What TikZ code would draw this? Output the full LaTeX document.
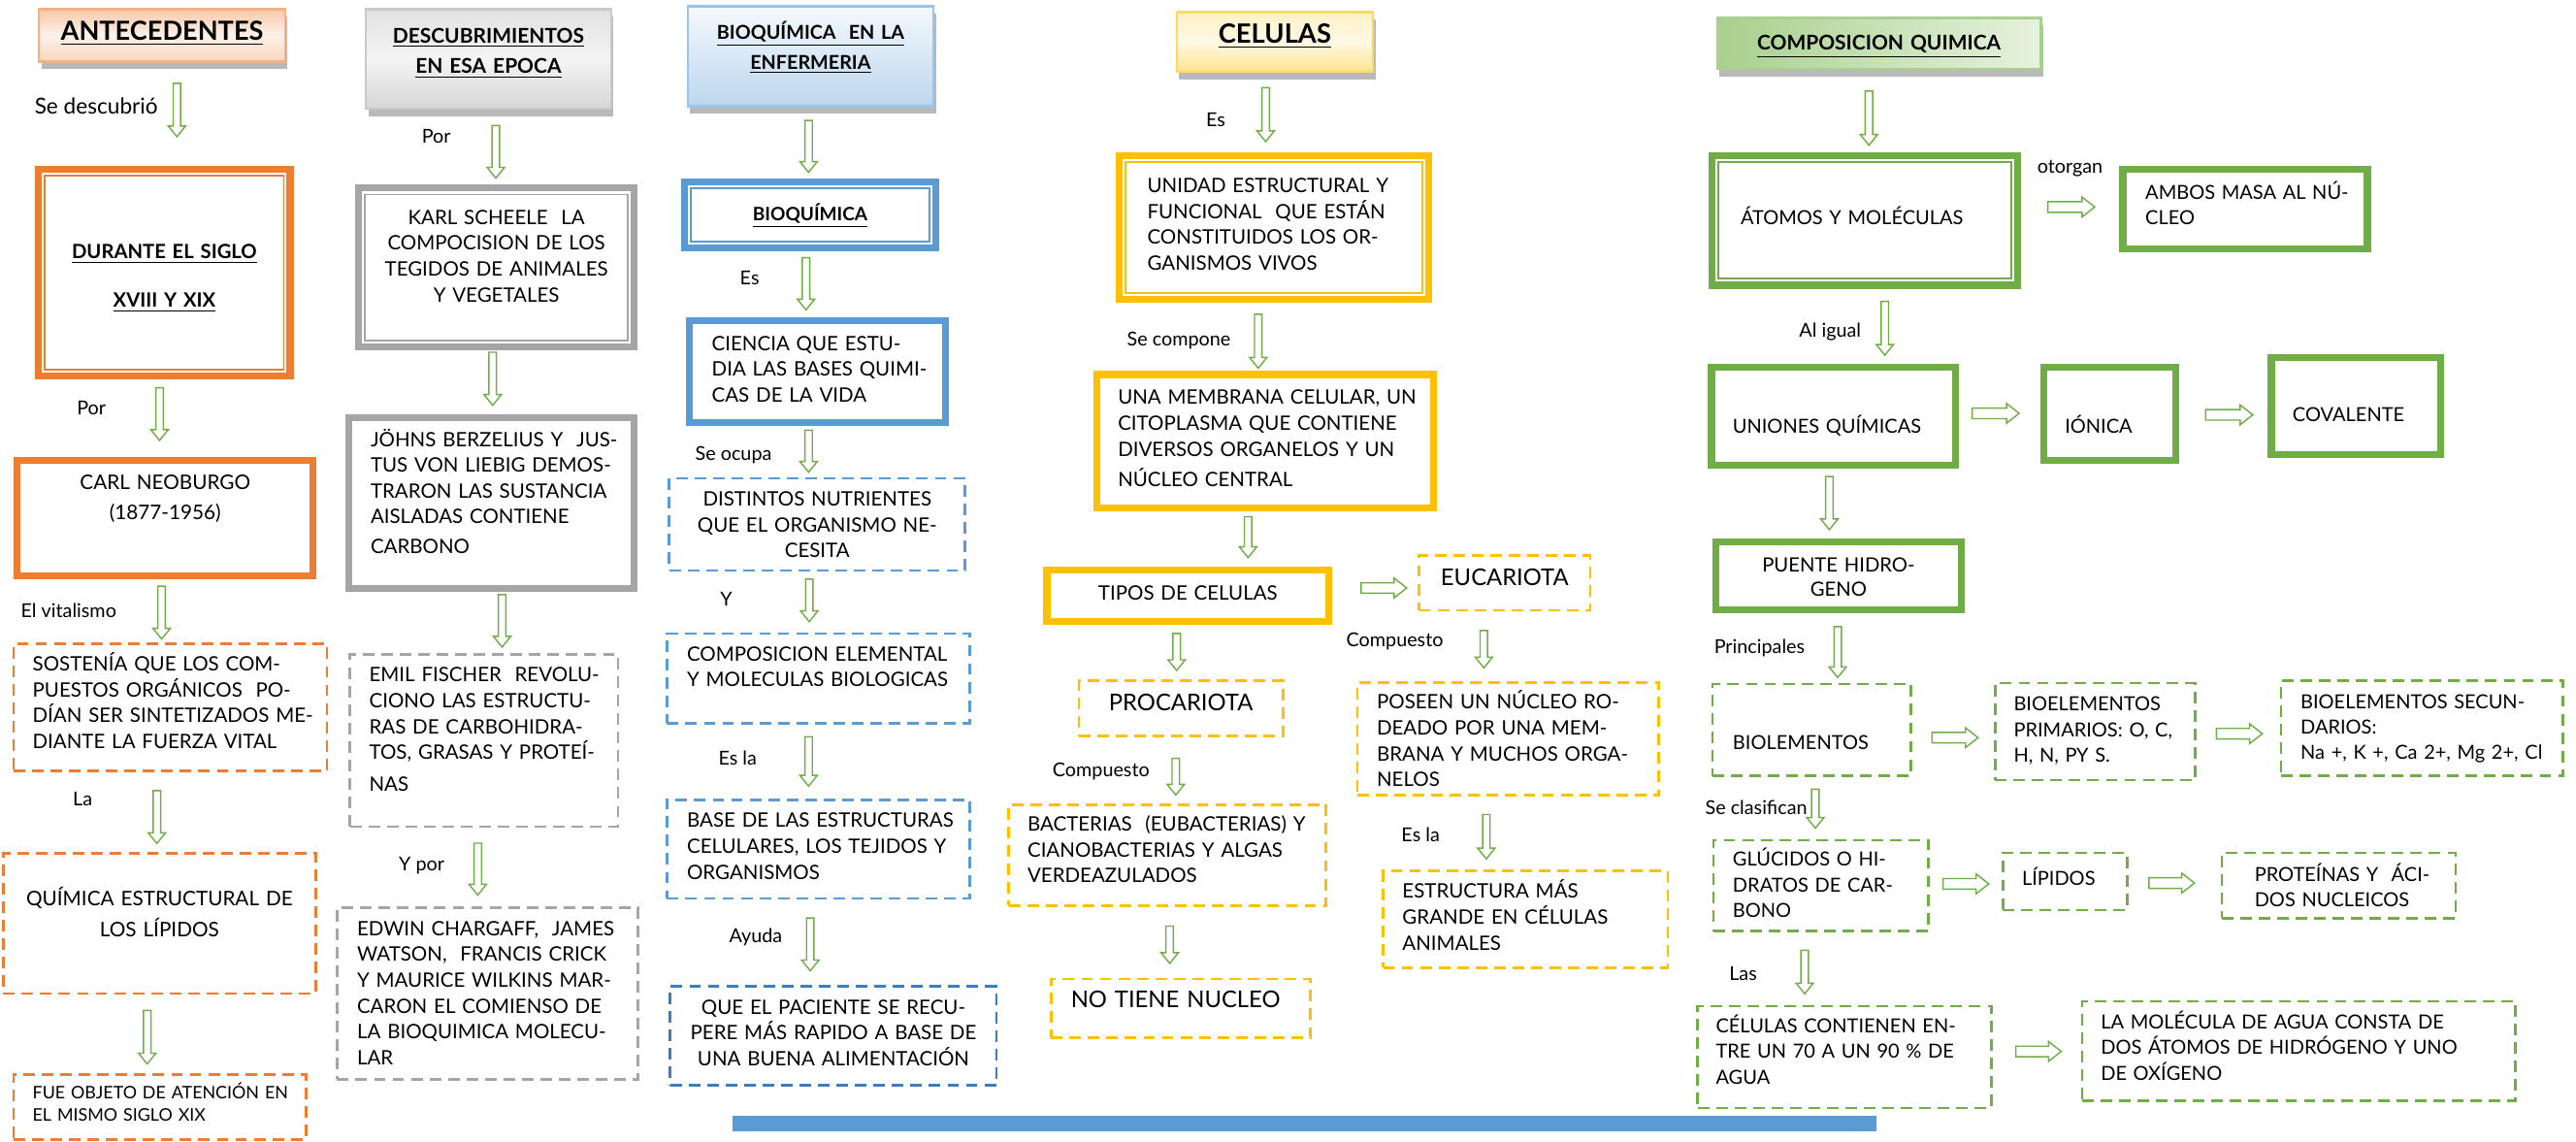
\documentclass[tikz,border=0pt]{standalone}
\usepackage{fontspec}
\setmainfont{Lato}
\setsansfont{Lato}
\usetikzlibrary{shapes.arrows,shadows}
\newdimen\U \U=0.025cm
\definecolor{cOr}{HTML}{ED7D31}
\definecolor{cGr}{HTML}{A5A5A5}
\definecolor{cBl}{HTML}{5B9BD5}
\definecolor{cBd}{HTML}{3A7DC0}
\definecolor{cGo}{HTML}{FFC000}
\definecolor{cGn}{HTML}{70AD47}
\definecolor{cAr}{HTML}{70AD47}
\definecolor{hOb}{HTML}{F4B183}
\definecolor{hOt}{HTML}{F8C9AA}
\definecolor{hOm}{HTML}{FDF1E9}
\definecolor{hOd}{HTML}{F9D5BD}
\definecolor{hGb}{HTML}{C9C9C9}
\definecolor{hGt}{HTML}{E2E2E2}
\definecolor{hGm}{HTML}{F4F4F4}
\definecolor{hGd}{HTML}{D6D6D6}
\definecolor{hBb}{HTML}{9DC3E6}
\definecolor{hBt}{HTML}{F5F9FD}
\definecolor{hBd}{HTML}{BCD6EE}
\definecolor{hYb}{HTML}{FFD966}
\definecolor{hYt}{HTML}{FFF1C6}
\definecolor{hYm}{HTML}{FFF9E6}
\definecolor{hYd}{HTML}{FFE38C}
\definecolor{hNb}{HTML}{A9D18E}
\definecolor{hNl}{HTML}{A8D08D}
\definecolor{hNr}{HTML}{E6F2DE}
\definecolor{cBar}{HTML}{5B9BD5}

\newcommand\bodyf{\fontsize{8.6}{11.2}\selectfont}
\newcommand\bodyq{\fontsize{8.4}{11.1}\selectfont}
\newcommand\labf{\fontsize{8.3}{10}\selectfont}
\newcommand\Lx[1]{\mbox{#1}}

\newcommand\BX[9]{%
  \pgfmathsetmacro\bxX{#3+\bxin}%
  \pgfmathsetmacro\bxY{#4+\bxin}%
  \pgfmathsetlengthmacro\bxW{(#5-#3-2*(#7))*\U}%
  \pgfmathsetlengthmacro\bxS{((#7)-\bxin)*\U}%
  \pgfmathsetlengthmacro\bxH{((#8)-(#4)-\bxin)*\U}%
  \pgfmathsetlengthmacro\bxD{((#6)-(#8)-\bxin)*\U}%
  \node[#1, anchor=north west, inner ysep=0pt, inner xsep=\bxS,
        text width=\bxW, text height=\bxH, text depth=\bxD] (#2) at (\bxX,\bxY) {#9};}
\newcommand\TBX{\def\bxin{2.1}\BX}
\newcommand\DBX{\def\bxin{0.6}\BX}
\newcommand\HBX{\def\bxin{0.5}\BX}
\newcommand\VA[4]{\node[varr, minimum height={(#4-#3)*\U}] (#1) at (#2,{(#3+#4)/2}) {};}
\newcommand\HA[4]{\node[harr, minimum height={(#4-#3)*\U}] (#1) at ({(#3+#4)/2},#2) {};}
\newcommand\LB[5][\labf]{\node[anchor=base, inner sep=0pt, font=#1] (#2) at (#3,{#4+4}) {#5};}
\newcommand\DBL[2]{\draw[#1, line width=0.8pt] ([shift={(6,6)}]#2.north west) rectangle ([shift={(-6,-6)}]#2.south east);}

\begin{document}
\begin{tikzpicture}[x=0.025cm, y=-0.025cm,
  thk/.style={draw=#1, line width=3pt},
  dsh/.style={draw=#1, line width=1.1pt, dash pattern=on 5pt off 3pt},
  txl/.style={align=left, font=\bodyf},
  txc/.style={align=center, font=\bodyf},
  qxl/.style={align=left, font=\bodyq},
  shd/.style={drop shadow={shadow xshift=1.5\U, shadow yshift=-4.5\U, fill=black!55}},
  hO/.style={draw=hOb, line width=1pt, top color=hOt, bottom color=hOd, middle color=hOm, shd},
  hG/.style={draw=hGb, line width=1pt, top color=hGt, bottom color=hGd, middle color=hGm, shd},
  hBs/.style={draw=hBb, line width=1pt, top color=hBt, bottom color=hBd, shd},
  hYs/.style={draw=hYb, line width=1pt, top color=hYt, bottom color=hYd, middle color=hYm, shd},
  hNs/.style={draw=hNb, line width=1pt, left color=hNl, right color=hNr, shd},
  varr/.style={single arrow, draw=cAr, fill=white, line width=0.6pt, inner sep=0pt, inner ysep=1.85\U,
     single arrow head extend=3\U, single arrow tip angle=78, minimum width=0pt, rotate=-90},
  harr/.style={single arrow, draw=cAr, fill=white, line width=0.6pt, inner sep=0pt, inner ysep=2.8\U,
     single arrow head extend=2.8\U, single arrow tip angle=76, minimum width=0pt}
]
\useasboundingbox (0,0) rectangle (1568,695);

% ---------------- Column 1 ----------------
\HBX{hO, align=center, font=\fontsize{11.4}{13}\selectfont\bfseries}{hA}{22.6}{4.5}{173.3}{37.3}{4}{24}{\underline{ANTECEDENTES}}
\TBX{thk=cOr, align=center, font=\fontsize{8.5}{21.1}\selectfont\bfseries}{bDur}{19.3}{98.8}{176.6}{228.8}{4}{155.3}{\underline{DURANTE EL SIGLO}\\\underline{XVIII Y XIX}}
\DBL{cOr}{bDur}
\TBX{thk=cOr, align=center, font=\fontsize{8.7}{13.4}\selectfont}{bCarl}{6.3}{276.2}{190.6}{350.4}{4}{295.6}{CARL NEOBURGO\\(1877-1956)}
\DBX{dsh=cOr, txl}{bSos}{6.9}{390.3}{198.9}{469}{12.2}{407.7}{\Lx{SOSTENÍA QUE LOS COM-}\\\Lx{PUESTOS ORGÁNICOS~ PO-}\\\Lx{DÍAN SER SINTETIZADOS ME-}\\\Lx{DIANTE LA FUERZA VITAL}}
\DBX{dsh=cOr, align=center, font=\fontsize{8.7}{13.6}\selectfont}{bQui}{0.6}{518}{192}{604.6}{4}{550.5}{QUÍMICA ESTRUCTURAL DE\\LOS LÍPIDOS}
\DBX{dsh=cOr, align=left, font=\fontsize{7.5}{9.5}\selectfont}{bFue}{6.9}{652.6}{186}{693.5}{12.2}{668.2}{\Lx{FUE OBJETO DE ATENCIÓN EN}\\\Lx{EL MISMO SIGLO XIX}}

\LB[\fontsize{9.5}{11}\selectfont]{lSe}{58.6}{65.6}{Se descubrió}
\LB{lPor1}{55.6}{248.3}{Por}
\LB{lVit}{41.8}{371.8}{El vitalismo}
\LB{lLa}{50.3}{486.5}{La}

\VA{a1}{107.7}{49.3}{81.8}
\VA{a2}{97.1}{234.6}{266.7}
\VA{a3}{98.4}{355.4}{387.6}
\VA{a4}{95.5}{479.8}{512}
\VA{a5}{89.6}{613.6}{646.2}

% ---------------- Column 2 ----------------
\HBX{hG, align=center, font=\fontsize{8.8}{13.3}\selectfont\bfseries}{hD}{221.5}{4.5}{371.7}{66}{4}{25.3}{\underline{DESCUBRIMIENTOS}\\\underline{EN ESA EPOCA}}
\TBX{thk=cGr, txc}{bKarl}{214.2}{110.3}{385.9}{211.3}{4}{134.4}{KARL SCHEELE~ LA\\COMPOCISION DE LOS\\TEGIDOS DE ANIMALES\\Y VEGETALES}
\DBL{cGr}{bKarl}
\TBX{thk=cGr, align=left, font=\fontsize{8.6}{11}\selectfont}{bJohn}{208.3}{249.8}{385.9}{358.3}{15.2}{270}{\Lx{JÖHNS BERZELIUS Y~ JUS-}\\\Lx{TUS VON LIEBIG DEMOS-}\\\Lx{TRARON LAS SUSTANCIA}\\\Lx{AISLADAS CONTIENE}\\[2.3pt]\Lx{CARBONO}}
\DBX{dsh=cGr, txl}{bEmil}{211.7}{397}{376}{503}{12.3}{414.4}{\Lx{EMIL FISCHER~ REVOLU-}\\\Lx{CIONO LAS ESTRUCTU-}\\\Lx{RAS DE CARBOHIDRA-}\\\Lx{TOS, GRASAS Y PROTEÍ-}\\[2.3pt]\Lx{NAS}}
\DBX{dsh=cGr, txl}{bEdw}{203.8}{551.1}{388.3}{656.8}{12.8}{568.6}{\Lx{EDWIN CHARGAFF,~ JAMES}\\\Lx{WATSON,~ FRANCIS CRICK}\\\Lx{Y MAURICE WILKINS MAR-}\\\Lx{CARON EL COMIENSO DE}\\\Lx{LA BIOQUIMICA MOLECU-}\\\Lx{LAR}}

\LB{lPor2}{265.6}{83}{Por}
\LB{lYpor}{256.7}{525.9}{Y por}

\VA{a6}{301.8}{75}{107}
\VA{a7}{299.9}{213}{245.3}
\VA{a8}{305.6}{360.6}{392.5}
\VA{a9}{290.8}{511.8}{543.4}

% ---------------- Column 3 ----------------
\HBX{hBs, align=center, font=\fontsize{8.3}{13.1}\selectfont\bfseries}{hB}{417.4}{2.7}{568}{64.4}{4}{23.1}{\underline{BIOQUÍMICA~ EN LA}\\\underline{ENFERMERIA}}
\TBX{thk=cBl, align=center, font=\fontsize{8}{10}\selectfont\bfseries}{bBio}{412.5}{106.7}{569.6}{151}{4}{132.4}{\underline{BIOQUÍMICA}}
\DBL{cBl}{bBio}
\TBX{thk=cBl, txl}{bCien}{415.4}{191}{575.5}{257.2}{15.8}{211.2}{\Lx{CIENCIA QUE ESTU-}\\\Lx{DIA LAS BASES QUIMI-}\\\Lx{CAS DE LA VIDA}}
\DBX{dsh=cBl, txc}{bDist}{406}{289.8}{587.3}{347}{4}{307.3}{DISTINTOS NUTRIENTES\\QUE EL ORGANISMO NE-\\CESITA}
\DBX{dsh=cBl, txl}{bComp}{404.6}{384.2}{590.1}{440}{12.8}{401.6}{\Lx{COMPOSICION ELEMENTAL}\\\Lx{Y MOLECULAS BIOLOGICAS}}
\DBX{dsh=cBl, txl}{bBase}{404.6}{485.4}{590.1}{546.6}{12.8}{502.9}{\Lx{BASE DE LAS ESTRUCTURAS}\\\Lx{CELULARES, LOS TEJIDOS Y}\\\Lx{ORGANISMOS}}
\DBX{dsh=cBd, txc}{bPac}{406.6}{599}{606.4}{660.4}{4}{616.4}{QUE EL PACIENTE SE RECU-\\PERE MÁS RAPIDO A BASE DE\\UNA BUENA ALIMENTACIÓN}

\LB{lEs1}{456.3}{169.1}{Es}
\LB{lOcu}{446.5}{276.2}{Se ocupa}
\LB{lY}{442}{365}{Y}
\LB{lEsla1}{449}{461.8}{Es la}
\LB{lAyu}{460}{569.8}{Ayuda}

\VA{a10}{492.2}{71.9}{103.5}
\VA{a11}{490.6}{155.5}{187.2}
\VA{a12}{492.2}{260.4}{286}
\VA{a13}{492.6}{351.1}{377}
\VA{a14}{492.2}{447.1}{477.1}
\VA{a15}{493.2}{557.4}{589.5}

\fill[cBar] (446,679.3) rectangle (1142,688.5);

% ---------------- Column 4 ----------------
\HBX{hYs, align=center, font=\fontsize{11.5}{13}\selectfont\bfseries}{hC}{715}{6.1}{835.5}{43.6}{4}{25.8}{\underline{CELULAS}}
\TBX{thk=cGo, txl}{bUni}{677}{90.4}{869.5}{182}{19.3}{115.2}{\Lx{UNIDAD ESTRUCTURAL Y}\\\Lx{FUNCIONAL~ QUE ESTÁN}\\\Lx{CONSTITUIDOS LOS OR-}\\\Lx{GANISMOS VIVOS}}
\DBL{cGo}{bUni}
\TBX{thk=cGo, txl}{bMem}{663.5}{223.8}{872.8}{309.2}{14.9}{244}{\Lx{UNA MEMBRANA CELULAR, UN}\\\Lx{CITOPLASMA QUE CONTIENE}\\\Lx{DIVERSOS ORGANELOS Y UN}\\[2pt]\Lx{NÚCLEO CENTRAL}}
\TBX{thk=cGo, txc}{bTip}{633}{343}{808.9}{378.1}{4}{363.2}{TIPOS DE CELULAS}
\DBX{dsh=cGo, align=center, font=\fontsize{10}{12}\selectfont}{bEuc}{862.4}{336.8}{967.8}{371.2}{4}{355.6}{EUCARIOTA}
\DBX{dsh=cGo, align=center, font=\fontsize{10}{12}\selectfont}{bPro}{655.3}{413}{780.8}{447.9}{4}{431.6}{PROCARIOTA}
\DBX{dsh=cGo, txl}{bBac}{612.7}{488.4}{807}{551.1}{12}{505.1}{\Lx{BACTERIAS~ (EUBACTERIAS) Y}\\\Lx{CIANOBACTERIAS Y ALGAS}\\\Lx{VERDEAZULADOS}}
\DBX{dsh=cGo, align=left, font=\fontsize{10}{12}\selectfont}{bNo}{638.4}{594.5}{797.5}{631.6}{12.7}{612.7}{\Lx{NO TIENE NUCLEO}}
\DBX{dsh=cGo, txl}{bPos}{824.9}{414.1}{1009.6}{483.8}{12.4}{430.9}{\Lx{POSEEN UN NÚCLEO RO-}\\\Lx{DEADO POR UNA MEM-}\\\Lx{BRANA Y MUCHOS ORGA-}\\\Lx{NELOS}}
\DBX{dsh=cGo, txl}{bEst}{840.5}{528.8}{1015}{588.9}{12.4}{546.1}{\Lx{ESTRUCTURA MÁS}\\\Lx{GRANDE EN CÉLULAS}\\\Lx{ANIMALES}}

\LB{lEs2}{740}{72.8}{Es}
\LB{lComp}{717.5}{206.8}{Se compone}
\LB{lCo1}{670.2}{469}{Compuesto}
\LB{lCo2}{849}{389.4}{Compuesto}
\LB{lEsla2}{864.7}{508.4}{Es la}

\VA{a16}{770.4}{52}{84.8}
\VA{a17}{765.9}{189.9}{222.7}
\VA{a18}{759.7}{313.1}{338}
\VA{a19}{716.2}{384.2}{406.7}
\VA{a20}{715.7}{460.2}{482.5}
\VA{a21}{712}{562.3}{585}
\VA{a22}{903.2}{382.4}{405.1}
\VA{a23}{904.7}{494.4}{521.4}
\HA{h1}{357.9}{826.4}{854.2}

% ---------------- Column 5 ----------------
\HBX{hNs, align=center, font=\fontsize{8.8}{11}\selectfont\bfseries}{hQ}{1044}{9.7}{1242}{41.8}{4}{30}{\underline{COMPOSICION QUIMICA}}
\TBX{thk=cGn, qxl}{bAto}{1038}{90.4}{1228}{173.6}{19.4}{134.4}{\Lx{ÁTOMOS Y MOLÉCULAS}}
\DBL{cGn}{bAto}
\TBX{thk=cGn, qxl}{bAmb}{1288}{98.8}{1441}{151.5}{15.8}{119}{\Lx{AMBOS MASA AL NÚ-}\\\Lx{CLEO}}
\TBX{thk=cGn, qxl}{bUn}{1037.6}{219.3}{1190.5}{283}{15}{261.4}{\Lx{UNIONES QUÍMICAS}}
\TBX{thk=cGn, qxl}{bIon}{1239.8}{219.3}{1324.4}{280.3}{15}{261.4}{\Lx{IÓNICA}}
\TBX{thk=cGn, qxl}{bCov}{1378.3}{213.6}{1485.4}{276.9}{15.1}{254.7}{\Lx{COVALENTE}}
\TBX{thk=cGn, align=center, font=\fontsize{8.5}{10.4}\selectfont}{bPue}{1040.2}{325.5}{1193.8}{371}{4}{346.2}{PUENTE HIDRO-\\GENO}
\DBX{dsh=cGn, qxl}{bBiol}{1041}{415}{1163}{472}{13}{455.4}{\Lx{BIOLEMENTOS}}
\DBX{dsh=cGn, qxl}{bPrim}{1213}{414.5}{1336}{474.7}{12}{431.9}{\Lx{BIOELEMENTOS}\\\Lx{PRIMARIOS: O, C,}\\\Lx{H, N, PY S.}}
\DBX{dsh=cGn, qxl}{bSec}{1387}{413}{1560}{472}{12.6}{430.4}{\Lx{BIOELEMENTOS SECUN-}\\\Lx{DARIOS:}\\\Lx{Na +, K +, Ca 2+, Mg 2+, Cl}}
\DBX{dsh=cGn, qxl}{bGlu}{1041.5}{510}{1173.6}{566.5}{12.5}{526.4}{\Lx{GLÚCIDOS O HI-}\\\Lx{DRATOS DE CAR-}\\\Lx{BONO}}
\DBX{dsh=cGn, qxl}{bLip}{1217.7}{517.8}{1294.7}{553.7}{12.3}{538.4}{\Lx{LÍPIDOS}}
\DBX{dsh=cGn, qxl}{bProt}{1351}{517.8}{1494.5}{558.8}{20.6}{535.6}{\Lx{PROTEÍNAS Y~ ÁCI-}\\\Lx{DOS NUCLEICOS}}
\DBX{dsh=cGn, qxl}{bCel}{1032}{611}{1212}{674.3}{11.7}{627.7}{\Lx{CÉLULAS CONTIENEN EN-}\\\Lx{TRE UN 70 A UN 90 \% DE}\\\Lx{AGUA}}
\DBX{dsh=cGn, qxl}{bMol}{1266}{608}{1531}{670}{12}{625.4}{\Lx{LA MOLÉCULA DE AGUA CONSTA DE}\\\Lx{DOS ÁTOMOS DE HIDRÓGENO Y UNO}\\\Lx{DE OXÍGENO}}

\LB{lOto}{1260}{101.7}{otorgan}
\LB{lAl}{1114}{201}{Al igual}
\LB{lPri}{1071}{393.8}{Principales}
\LB{lCla}{1069}{492}{Se clasifican}
\LB{lLas}{1061}{592.5}{Las}

\VA{a24}{1137.6}{54}{87}
\VA{a25}{1147.3}{182}{214.8}
\VA{a26}{1113.5}{288.7}{321}
\VA{a27}{1118.6}{380}{411}
\VA{a28}{1105}{479}{502.7}
\VA{a29}{1098.5}{577}{603.5}
\HA{h2}{126}{1244.4}{1273}
\HA{h3}{251.6}{1198.4}{1227}
\HA{h4}{252.5}{1340.5}{1369.2}
\HA{h5}{449}{1174}{1202}
\HA{h6}{446.6}{1347}{1375}
\HA{h7}{538}{1180.6}{1208.5}
\HA{h8}{537.5}{1306}{1333.7}
\HA{h9}{640}{1225}{1252.6}
\end{tikzpicture}
\end{document}
